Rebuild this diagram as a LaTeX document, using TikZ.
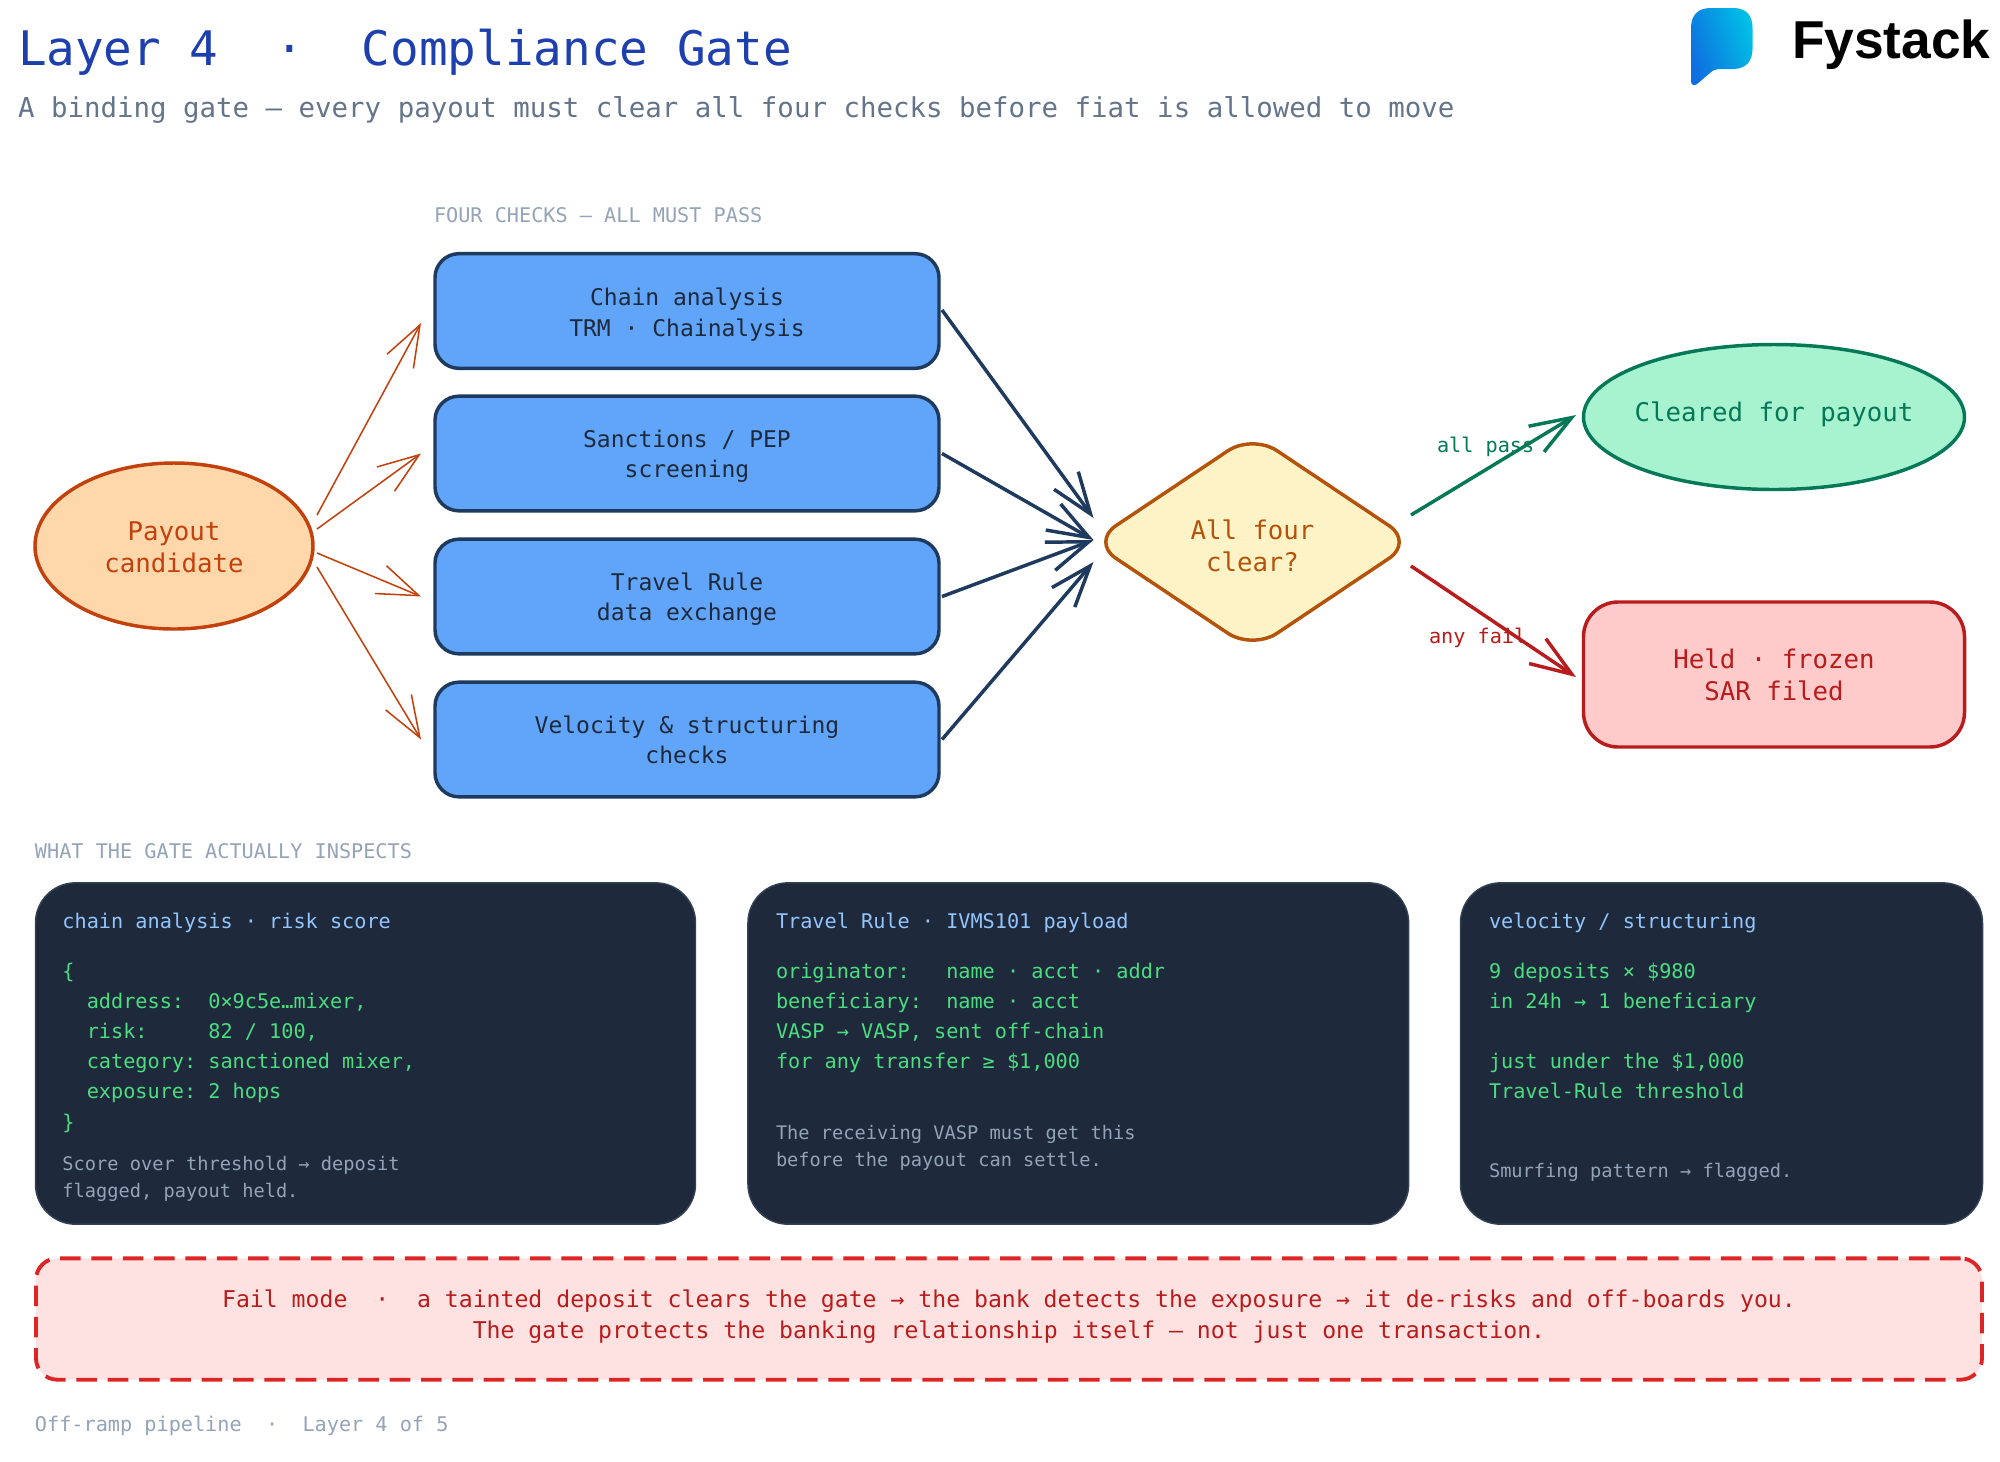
\documentclass[tikz,border=0pt]{standalone}
\usepackage{fontspec}
\setmainfont{DejaVu Sans Mono}
\newfontfamily\logofont{Liberation Sans}
\usetikzlibrary{arrows.meta,shapes.geometric}
\AtBeginDocument{\frenchspacing}
\definecolor{cTitle}{HTML}{1E40AF}
\definecolor{cSub}{HTML}{64748B}
\definecolor{cMute}{HTML}{94A3B8}
\definecolor{cBoxF}{HTML}{60A5FA}
\definecolor{cBoxS}{HTML}{1E3A5F}
\definecolor{cBoxT}{HTML}{1E293B}
\definecolor{cOrF}{HTML}{FED7AA}
\definecolor{cOrS}{HTML}{C2410C}
\definecolor{cYeF}{HTML}{FEF3C7}
\definecolor{cYeS}{HTML}{B45309}
\definecolor{cGrF}{HTML}{A7F3D0}
\definecolor{cGrS}{HTML}{047857}
\definecolor{cReF}{HTML}{FECACA}
\definecolor{cReS}{HTML}{B91C1C}
\definecolor{cCard}{HTML}{1E293B}
\definecolor{cCardS}{HTML}{334155}
\definecolor{cHead}{HTML}{93C5FD}
\definecolor{cCode}{HTML}{4ADE80}
\definecolor{cFailF}{HTML}{FEE2E2}
\definecolor{cFailS}{HTML}{DC2626}
\definecolor{cLogoA}{HTML}{0E6FE0}
\definecolor{cLogoB}{HTML}{00BFE6}
% two centred lines whose baselines' midpoint sits #1 px below the node centre
\newcommand{\tl}[3]{\rule{0pt}{\dimexpr9pt+#1pt*3/2\relax}#2\\#3\rule[-9pt]{0pt}{9pt}}
\tikzset{
  x=0.75pt,y=-0.75pt,
  allnodes/.style={inner sep=0pt,outer sep=0pt},
  checkbox/.style={allnodes,rectangle,draw=cBoxS,fill=cBoxF,text=cBoxT,line width=2.6pt,rounded corners=18pt,
    minimum width=378pt,minimum height=86pt,align=center,font=\fontsize{17.25pt}{22.9pt}\selectfont},
  bigtext/.style={align=center,font=\fontsize{19.3pt}{24.6pt}\selectfont},
  startnode/.style={allnodes,ellipse,draw=cOrS,fill=cOrF,text=cOrS,line width=2.6pt,minimum width=208.5pt,minimum height=124.5pt,bigtext},
  gatenode/.style={allnodes,diamond,draw=cYeS,fill=cYeF,text=cYeS,line width=2.6pt,rounded corners=22pt,minimum width=241.5pt,minimum height=161.5pt,aspect=1.46,bigtext},
  oknode/.style={allnodes,ellipse,draw=cGrS,fill=cGrF,text=cGrS,line width=2.6pt,minimum width=285.75pt,minimum height=108.75pt,bigtext},
  heldnode/.style={allnodes,rectangle,draw=cReS,fill=cReF,text=cReS,line width=2.6pt,rounded corners=26pt,minimum width=285.75pt,minimum height=108.75pt,bigtext},
  card/.style={allnodes,rectangle,draw=cCardS,fill=cCard,line width=1.1pt,rounded corners=30pt,minimum height=256pt},
  cardhead/.style={allnodes,anchor=base west,text=cHead,font=\fontsize{15.15pt}{22.65pt}\selectfont},
  cardcode/.style={allnodes,anchor=north west,align=left,text=cCode,font=\fontsize{15.15pt}{22.65pt}\selectfont},
  cardnote/.style={allnodes,anchor=north west,align=left,text=cMute,font=\fontsize{14pt}{20.25pt}\selectfont},
  failbox/.style={allnodes,rectangle,draw=cFailS,fill=cFailF,text=cReS,line width=2.9pt,rounded corners=16pt,
    dash pattern=on 15.4pt off 8.1pt,minimum width=1459.5pt,minimum height=91pt,align=center,font=\fontsize{17.35pt}{23.4pt}\selectfont},
  section/.style={allnodes,anchor=base west,text=cMute,font=\fontsize{15.15pt}{18pt}\selectfont},
  edgelabel/.style={allnodes,anchor=base west,font=\fontsize{15.15pt}{18pt}\selectfont},
  inarrow/.style={draw=cOrS,line width=1.15pt,-{Straight Barb[length=31pt,width=22.5pt]}},
  outarrow/.style={draw=cBoxS,line width=2.6pt,-{Straight Barb[length=31pt,width=22.5pt]}},
  passarrow/.style={draw=cGrS,line width=2.6pt,-{Straight Barb[length=31pt,width=22.5pt]}},
  failarrow/.style={draw=cReS,line width=2.6pt,-{Straight Barb[length=31pt,width=22.5pt]}},
}
\begin{document}
\begin{tikzpicture}
\useasboundingbox (0,0) rectangle (2000,1461);
\fill[white] (0,0) rectangle (2000,1461);

% header
\node[allnodes,anchor=base west,text=cTitle,font=\fontsize{35.7pt}{40pt}\selectfont] (title) at (18,65) {Layer 4~~·~~Compliance Gate};
\node[allnodes,anchor=base west,text=cSub,font=\fontsize{20.57pt}{24pt}\selectfont] (subtitle) at (18,117) {A binding gate — every payout must clear all four checks before fiat is allowed to move};

% logo
\shade[left color=cLogoA,right color=cLogoB,shading angle=110]
  (1691,28) .. controls (1691,15) and (1698,8) .. (1711,8) -- (1733,8)
  .. controls (1746,8) and (1752.5,15) .. (1752.5,28) -- (1752.5,49)
  .. controls (1752.5,61) and (1746,69) .. (1733,69) -- (1722,69)
  .. controls (1716,69) and (1713,70) .. (1710,73) -- (1697,84)
  .. controls (1694,86) and (1691,85) .. (1691,81) -- cycle;
\node[allnodes,anchor=base west,text=black,font=\logofont\bfseries\fontsize{40pt}{44pt}\selectfont] (logotext) at (1792,58) {Fystack};

\node[section] (checkslabel) at (434,222) {FOUR CHECKS — ALL MUST PASS};

% main flow
\node[startnode] (payout) at (174,546) {\tl{10.5}{Payout}{candidate}};
\node[checkbox] (chain) at (687,311) {\tl{10}{Chain analysis}{TRM · Chainalysis}};
\node[checkbox] (sanctions) at (687,453.5) {\tl{9}{Sanctions / PEP}{screening}};
\node[checkbox] (travel) at (687,596.5) {\tl{9}{Travel Rule}{data exchange}};
\node[checkbox] (velocity) at (687,739.5) {\tl{9}{Velocity \& structuring}{checks}};
\node[gatenode] (gate) at (1252.5,542) {\tl{13.5}{All four}{clear?}};
\node[oknode] (cleared) at (1774,417) {\makebox[0pt][c]{\rule{0pt}{17pt}Cleared for payout\rule[-10pt]{0pt}{10pt}}};
\node[heldnode] (held) at (1774,674.5) {\tl{10}{Held · frozen}{SAR filed}};

\node[edgelabel,text=cGrS] (passlabel) at (1437,452) {all pass};
\node[edgelabel,text=cReS] (faillabel) at (1429,643) {any fail};

\draw[inarrow] ([shift={(4,-31)}]payout.east) -- ([shift={(-14,12)}]chain.west);
\draw[inarrow] ([shift={(4,-17)}]payout.east) -- ([shift={(-14,0)}]sanctions.west);
\draw[inarrow] ([shift={(4,7)}]payout.east) -- ([shift={(-14,0)}]travel.west);
\draw[inarrow] ([shift={(4,21)}]payout.east) -- ([shift={(-14,0)}]velocity.west);
\draw[outarrow] ([shift={(3,-1)}]chain.east) -- ([shift={(2,-24)}]gate.west);
\draw[outarrow] ([shift={(3,0)}]sanctions.east) -- ([shift={(2,-2)}]gate.west);
\draw[outarrow] ([shift={(3,0)}]travel.east) -- ([shift={(2,-2)}]gate.west);
\draw[outarrow] ([shift={(3,0)}]velocity.east) -- ([shift={(2,20)}]gate.west);
\draw[passarrow] ([shift={(-2.5,-27)}]gate.east) -- ([shift={(-7.5,-2)}]cleared.west);
\draw[failarrow] ([shift={(-2.5,24)}]gate.east) -- ([shift={(-7.5,2.5)}]held.west);

% inspection cards
\node[section] (inspectlabel) at (35,858) {WHAT THE GATE ACTUALLY INSPECTS};
\node[card,minimum width=495pt] (card1) at (365.5,1053.5) {};
\node[card,minimum width=495.5pt] (card2) at (1078.3,1053.5) {};
\node[card,minimum width=391.5pt] (card3) at (1721.5,1053.5) {};

\node[cardhead] (head1) at (62.5,928) {chain analysis · risk score};
\node[cardcode] (code1) at (62.5,958) {\rule{0pt}{15pt}\{\\~~address:~~0×9c5e…mixer,\\~~risk:~~~~~82 / 100,\\~~category: sanctioned mixer,\\~~exposure: 2 hops\\\}};
\node[cardnote] (note1) at (62.5,1150) {\rule{0pt}{15pt}Score over threshold → deposit\\flagged, payout held.};

\node[cardhead] (head2) at (776,928) {Travel Rule · IVMS101 payload};
\node[cardcode] (code2) at (776,958) {\rule{0pt}{15pt}originator:~~~name · acct · addr\\beneficiary:~~name · acct\\VASP → VASP, sent off-chain\\for any transfer ≥ \$1,000};
\node[cardnote] (note2) at (776,1119) {\rule{0pt}{15pt}The receiving VASP must get this\\before the payout can settle.};

\node[cardhead] (head3) at (1489,928) {velocity / structuring};
\node[cardcode] (code3) at (1489,958) {\rule{0pt}{15pt}9 deposits × \$980\\in 24h → 1 beneficiary\\~\\just under the \$1,000\\Travel-Rule threshold};
\node[cardnote] (note3) at (1489,1157.5) {\rule{0pt}{15pt}Smurfing pattern → flagged.};

% fail mode
\node[failbox] (fail) at (1009,1319) {\tl{4}{Fail mode~~·~~a tainted deposit clears the gate → the bank detects the exposure → it de-risks and off-boards you.}{The gate protects the banking relationship itself — not just one transaction.}};

\node[section] (footer) at (35,1431) {Off-ramp pipeline~~·~~Layer 4 of 5};
\end{tikzpicture}
\end{document}
